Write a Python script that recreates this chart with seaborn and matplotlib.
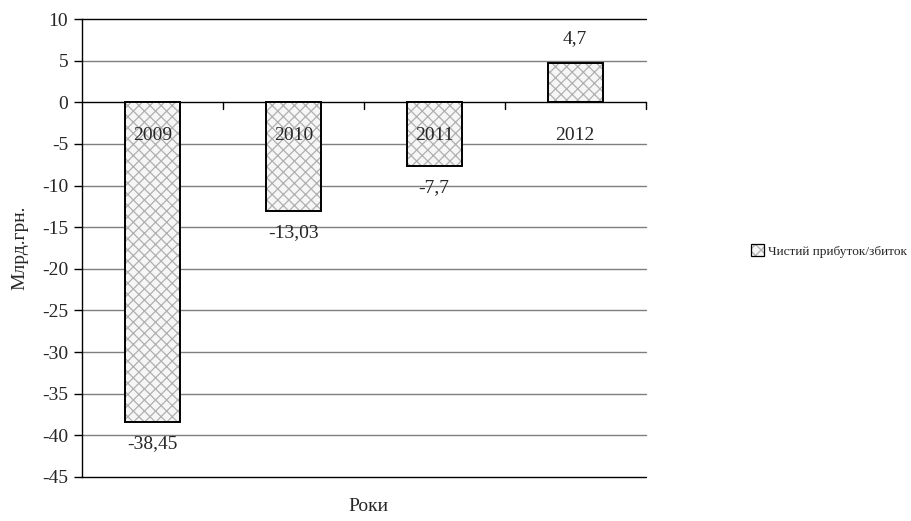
import matplotlib
matplotlib.use("Agg")
import matplotlib.pyplot as plt
import matplotlib.patches as mpatches
from matplotlib.legend_handler import HandlerBase
import seaborn as sns
import pandas as pd

years = ["2009", "2010", "2011", "2012"]
profit = [-38.45, -13.03, -7.7, 4.7]
value_labels = ["-38,45", "-13,03", "-7,7", "4,7"]
series_name = "Чистий прибуток/збиток"
y_ticks = list(range(-45, 11, 5))

sns.set_theme(style="white")
plt.rcParams["font.family"] = ["Liberation Serif", "DejaVu Serif"]
plt.rcParams["hatch.linewidth"] = 0.9

FS = 14
BAR_FACE = "#f6f6f6"
HATCH_COLOR = "#b0b0b0"
fig = plt.figure(figsize=(9.12, 5.21), dpi=100)
ax = fig.add_axes([0.0899, 0.0845, 0.618, 0.879])

df = pd.DataFrame({"year": years, "value": profit})
# light hatched fill, then black outlines on top
sns.barplot(data=df, x="year", y="value", ax=ax, width=0.39,
            color=BAR_FACE, edgecolor=HATCH_COLOR, linewidth=0, saturation=1,
            hatch="xxx")
sns.barplot(data=df, x="year", y="value", ax=ax, width=0.39,
            fill=False, edgecolor="black", linewidth=1.4)

ax.set_ylim(-45, 10)
ax.set_xlim(-0.5, 3.5)
ax.set_yticks(y_ticks)
ax.set_yticklabels([str(t) for t in y_ticks], fontsize=FS)
for t in y_ticks:
    ax.axhline(t, color="#7f7f7f" if t not in (0, 10, -45) else "black",
               lw=1.0, zorder=0, clip_on=False)

for s in ("top", "right", "bottom"):
    ax.spines[s].set_visible(False)
ax.spines["left"].set_color("black")
ax.spines["left"].set_linewidth(1.0)
ax.tick_params(axis="y", direction="out", length=6, width=1, color="black",
               left=True, pad=4)

# category axis runs along zero; ticks at category boundaries
ax.set_xticks([])
ax.set_xlabel("")
for b in [0.5, 1.5, 2.5, 3.5]:
    ax.plot([b, b], [0, -0.8], color="black", lw=1, clip_on=False)

for i, (yr, v, lab) in enumerate(zip(years, profit, value_labels)):
    ax.text(i, -4, yr, ha="center", va="center", fontsize=FS)
    if v < 0:
        ax.text(i, v - 2.6, lab, ha="center", va="center", fontsize=FS)
    else:
        ax.text(i, v + 3.0, lab, ha="center", va="center", fontsize=FS)

ax.set_ylabel("Млрд.грн.", fontsize=FS, labelpad=10)
fig.text(0.404, 0.027, "Роки", ha="center", va="center", fontsize=FS)


class HatchedBox(HandlerBase):
    def create_artists(self, legend, orig_handle, xd, yd, w, h, fontsize, trans):
        fill = mpatches.Rectangle((-xd, -yd), w, h, facecolor=BAR_FACE,
                                  edgecolor=HATCH_COLOR, lw=0, hatch="xxx",
                                  transform=trans)
        box = mpatches.Rectangle((-xd, -yd), w, h, fill=False,
                                 edgecolor="black", lw=0.9, transform=trans)
        return [fill, box]


handle = mpatches.Patch(label=series_name)
fig.legend(handles=[handle], handler_map={mpatches.Patch: HatchedBox()},
           loc="center left", bbox_to_anchor=(0.816, 0.518),
           frameon=False, fontsize=9.6, handlelength=1.0, handleheight=1.0,
           handletextpad=0.3, borderpad=0)

fig.savefig("out.png", dpi=100)
